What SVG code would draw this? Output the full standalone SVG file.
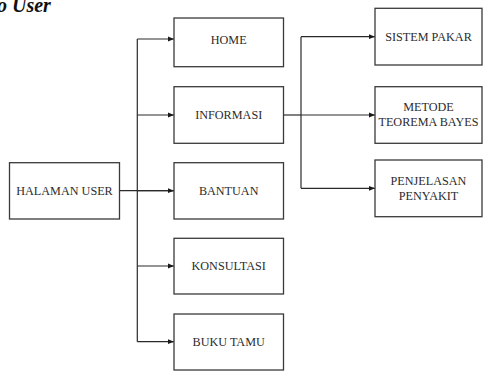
<svg xmlns="http://www.w3.org/2000/svg" width="483" height="372" viewBox="0 0 483 372">
<defs>
<marker id="ah" viewBox="0 0 10 10" refX="10" refY="5" markerWidth="6" markerHeight="6" markerUnits="userSpaceOnUse" orient="auto">
<path d="M0,1 L10,5 L0,9 z" fill="#1a1a1a"/>
</marker>
</defs>
<style>
rect{fill:#fff;stroke:#3a3a3a;stroke-width:1.3}
text{font-family:'Liberation Serif','Times New Roman',serif;font-size:12.2px;fill:#2b2b2b;text-anchor:middle}
.c{fill:none;stroke:#2a2a2a;stroke-width:1.2}
.a{marker-end:url(#ah)}
</style>
<rect width="483" height="372" style="fill:#fff;stroke:none"/>
<text x="-3" y="12" style="font-size:20px;font-weight:bold;font-style:italic;text-anchor:start;fill:#111">o User</text>
<g id="connectors">
<path class="c" d="M119.5,190.7 H174"/>
<path class="c" d="M137.3,39 V341.7"/>
<path class="c a" d="M137.3,39 H174"/>
<path class="c a" d="M137.3,115 H174"/>
<path class="c a" d="M137.3,190.7 H174"/>
<path class="c a" d="M137.3,266 H174"/>
<path class="c a" d="M137.3,341.7 H174"/>
<path class="c" d="M283.5,115 H301"/>
<path class="c" d="M301,36.7 V188.3"/>
<path class="c a" d="M301,36.7 H375"/>
<path class="c a" d="M301,115 H375"/>
<path class="c a" d="M301,188.3 H375"/>
</g>
<g id="halaman-user"><rect x="9.5" y="162.7" width="110" height="56.3"/><text x="64.5" y="195">HALAMAN USER</text></g>
<g id="home"><rect x="174" y="18" width="109.5" height="48.7"/><text x="228.7" y="43.5">HOME</text></g>
<g id="informasi"><rect x="174" y="86.7" width="109.5" height="56.6"/><text x="228.7" y="119.2">INFORMASI</text></g>
<g id="bantuan"><rect x="174" y="162.7" width="109.5" height="56.3"/><text x="228.7" y="195">BANTUAN</text></g>
<g id="konsultasi"><rect x="174" y="238.3" width="109.5" height="55.7"/><text x="228.7" y="270.3">KONSULTASI</text></g>
<g id="buku-tamu"><rect x="174" y="314" width="109.5" height="56"/><text x="228.7" y="346">BUKU TAMU</text></g>
<g id="sistem-pakar"><rect x="375" y="8.3" width="107" height="56.7"/><text x="428.5" y="40.7">SISTEM PAKAR</text></g>
<g id="metode"><rect x="375" y="86.7" width="107" height="56.6"/><text x="428.5" y="111">METODE</text><text x="428.5" y="125.5">TEOREMA BAYES</text></g>
<g id="penjelasan"><rect x="375" y="160" width="107" height="56.7"/><text x="428.5" y="185">PENJELASAN</text><text x="428.5" y="199.5">PENYAKIT</text></g>
</svg>
